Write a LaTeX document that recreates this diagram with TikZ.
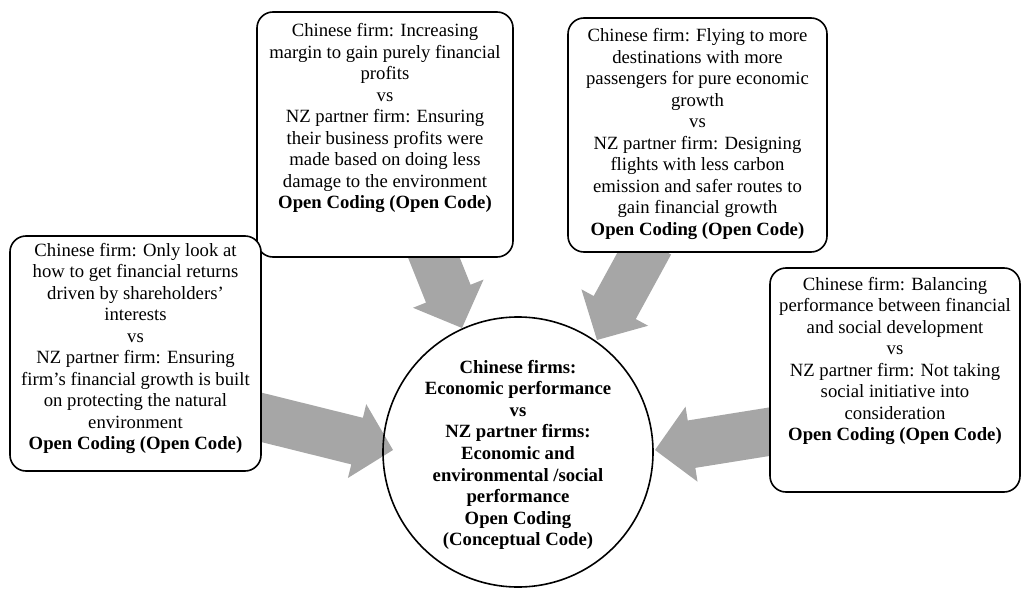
\documentclass[tikz,border=0pt]{standalone}
\usepackage{fontspec}
\setmainfont{Liberation Serif}
\usetikzlibrary{calc}
\definecolor{arrowgray}{RGB}{166,166,166}
\tikzset{
  box/.style={draw, line width=1.6pt, rounded corners=16pt, fill=white, inner sep=0pt},
  txt/.style={align=center, inner sep=0pt, font=\fontsize{18.7}{21.5}\selectfont},
  btxt/.style={txt, font=\fontsize{18.7}{21.6}\selectfont\bfseries},
  ring/.style={draw, circle, line width=1.6pt, inner sep=0pt, minimum size=270pt}
}
\newcommand\blockarrow[2]{%
  \coordinate (#1c) at ($(#2)!37pt!(#1)$);
  \fill[arrowgray] ($(#1)!24pt!90:(#2)$) -- ($(#1c)!24pt!-90:(#1)$) --
    ($(#1c)!38pt!-90:(#1)$) -- (#2) -- ($(#1c)!38pt!90:(#1)$) --
    ($(#1c)!24pt!90:(#1)$) -- ($(#1)!24pt!-90:(#2)$) -- cycle;}
\begin{document}
\begin{tikzpicture}[x=1pt, y=-1pt]
\useasboundingbox (0,0) rectangle (1021,589);
% arrow end points
\coordinate (a1s) at (430,248); \coordinate (a1e) at (462,328);
\coordinate (a2s) at (650,243); \coordinate (a2e) at (597,340);
\coordinate (a3s) at (252,415); \coordinate (a3e) at (393,450);
\coordinate (a4s) at (780,430); \coordinate (a4e) at (655,450);
\blockarrow{a1s}{a1e}
\blockarrow{a2s}{a2e}
\blockarrow{a3s}{a3e}
\blockarrow{a4s}{a4e}
% boxes
\node[box, minimum width=256pt, minimum height=245pt] (tc) at (385,134.5) {};
\node[txt] (tct) at (385,118) {Chinese firm: Increasing\\margin to gain purely financial\\profits\\vs\\NZ partner firm: Ensuring\\their business profits were\\made based on doing less\\damage to the environment\\\textbf{Open Coding (Open Code)}};
\node[box, minimum width=259pt, minimum height=234pt] (tr) at (697.5,135) {};
\node[txt] (trt) at (697.5,134) {Chinese firm: Flying to more\\destinations with more\\passengers for pure economic\\growth\\vs\\NZ partner firm: Designing\\flights with less carbon\\emission and safer routes to\\gain financial growth\\\textbf{Open Coding (Open Code)}};
\node[box, minimum width=251pt, minimum height=235pt] (lb) at (135.5,353.5) {};
\node[txt] (lbt) at (135.5,348.5) {Chinese firm: Only look at\\how to get financial returns\\driven by shareholders’\\interests\\vs\\NZ partner firm: Ensuring\\firm’s financial growth is built\\on protecting the natural\\environment\\\textbf{Open Coding (Open Code)}};
\node[box, minimum width=250pt, minimum height=224pt] (rb) at (895,380) {};
\node[txt] (rbt) at (895,361) {Chinese firm: Balancing\\performance between financial\\and social development\\vs\\NZ partner firm: Not taking\\social initiative into\\consideration\\\textbf{Open Coding (Open Code)}};
% circle
\node[ring] (circ) at (518,452) {};
\node[btxt] (circt) at (518,455) {Chinese firms:\\Economic performance\\vs\\NZ partner firms:\\Economic and\\environmental /social\\performance\\Open Coding\\(Conceptual Code)};
\end{tikzpicture}
\end{document}
